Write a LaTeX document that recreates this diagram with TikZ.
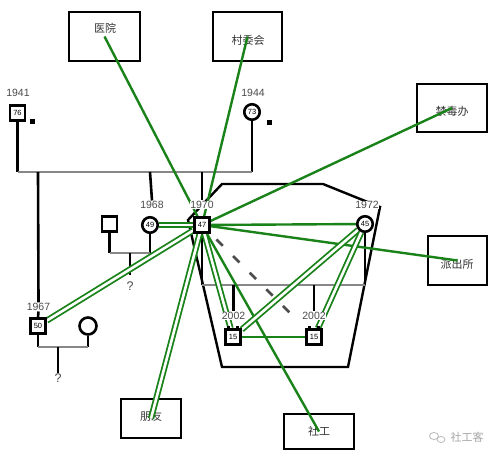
\documentclass[tikz,border=0pt]{standalone}
\usepackage{fontspec}
\setmainfont{Liberation Sans}
\newfontfamily\cjk{Noto Sans CJK SC}
\usetikzlibrary{backgrounds}
\pgfdeclarelayer{bottom}
\pgfsetlayers{bottom,background,main}
\definecolor{rel}{RGB}{25,130,25}
\definecolor{yeargray}{RGB}{75,75,75}
\definecolor{linegray}{RGB}{135,135,135}
\begin{document}
\begin{tikzpicture}[x=1pt,y=-1pt,
  male/.style={draw=black, line width=2.6pt, fill=white, minimum size=15pt, inner sep=0pt, font=\fontsize{7.5}{8}\selectfont},
  female/.style={circle, draw=black, line width=2.6pt, fill=white, minimum size=15.5pt, inner sep=0pt, font=\fontsize{7.5}{8}\selectfont},
  yr/.style={text=yeargray, fill=white, font=\fontsize{10.5}{11}\selectfont, inner sep=0.6pt},
  qm/.style={text=yeargray, font=\fontsize{12.5}{13}\selectfont, inner sep=0pt},
  marker/.style={fill=black, minimum size=5pt, inner sep=0pt},
  agency/.style={draw=black, line width=2pt, inner sep=0pt},
  agtext/.style={font=\cjk\fontsize{11}{12}\selectfont, text=black!80, inner sep=0pt},
  tie/.style={draw=rel, line width=2.4pt},
  strongtie/.style={draw=rel, line width=1.8pt, double=white, double distance=2.6pt},
  kin/.style={draw=black, line width=2.6pt},
  union/.style={draw=linegray, line width=2.4pt},
  hh/.style={draw=black, line width=2.4pt, line join=miter},
  conflict/.style={draw=black!70, line width=2.6pt, dash pattern=on 9pt off 14.5pt},
]
\begin{pgfonlayer}{bottom}
\fill[white] (0,0) rectangle (500,460);
\end{pgfonlayer}
\useasboundingbox (0,0) rectangle (500,460);

% genogram people
\node[male] (g1941) at (17.5,113) {76};
\node[marker] (d1941) at (32,121) {};
\node[yr] (y1941) at (18,93) {1941};
\node[female] (g1944) at (252,112) {73};
\node[marker] (d1944) at (269,122) {};
\node[yr] (y1944) at (253,93) {1944};

\node[male] (g1967) at (38,326) {50};
\node[yr] (y1967) at (38.5,307) {1967};
\node[female, minimum size=17pt] (w1967) at (88,326) {};
\node[qm] (q1967) at (58,378) {?};

\node[male] (h1968) at (109.5,224) {};
\node[female] (g1968) at (150,225) {49};
\node[yr] (y1968) at (152,205) {1968};
\node[qm] (q1968) at (130,286) {?};

\node[male] (g1970) at (202,225) {47};
\node[yr] (y1970) at (202,205) {1970};
\node[female] (g1972) at (365,224) {45};
\node[yr] (y1972) at (367,205) {1972};

\node[male] (c1) at (233,337) {15};
\node[yr] (y2002a) at (233.5,316) {2002};
\node[male] (c2) at (314,337) {15};
\node[yr] (y2002b) at (314,316) {2002};
\foreach \c in {c1,c2}{
  \fill[black] ([xshift=-6pt]\c.north) rectangle ++(3,-2.2);
  \fill[black] ([xshift=3pt]\c.north) rectangle ++(3,-2.2);
}

% watermark
\node[font=\cjk\fontsize{11}{12}\selectfont, text=gray!70, inner sep=0pt] (wm) at (467,437) {社工客};
\draw[gray!55, line width=0.8pt] (434,436) ellipse (4.5 and 3.5);
\draw[gray!55, line width=0.8pt] (441,439.5) ellipse (4 and 3);

\begin{scope}[on background layer]
  % agencies
  \node[agency, minimum width=71pt, minimum height=49pt] (hosp) at (104.5,36.5) {};
  \node[agtext] (thosp) at (105,28) {医院};
  \node[agency, minimum width=69pt, minimum height=49pt] (vc) at (247.5,36.5) {};
  \node[agtext] (tvc) at (248,40) {村委会};
  \node[agency, minimum width=70pt, minimum height=48pt] (drug) at (452,108) {};
  \node[agtext] (tdrug) at (452,111) {禁毒办};
  \node[agency, minimum width=59pt, minimum height=49pt] (police) at (457.5,260.5) {};
  \node[agtext] (tpolice) at (457,264) {派出所};
  \node[agency, minimum width=60pt, minimum height=39pt] (friend) at (151,418.5) {};
  \node[agtext] (tfriend) at (151,416) {朋友};
  \node[agency, minimum width=70pt, minimum height=35pt] (sw) at (319,431.5) {};
  \node[agtext] (tsw) at (319,431) {社工};

  % household boundary
  \draw[hh] (222,184) -- (323,184) -- (380,207) -- (348,367) -- (222,367) -- (188,220) -- cycle;

  % kinship lines
  \coordinate (uL) at (17.5,172);
  \coordinate (uR) at (252,172);
  \draw[kin] (g1941.south) -- (uL);
  \draw[kin] (g1944.south) -- (uR);
  \draw[union] (uL) -- (uR);
  \draw[kin] (38,172) -- (y1967.north);
  \draw[kin] (y1967.south) -- (g1967.north);
  \draw[kin] (150,172) -- (y1968.north);
  \draw[kin] (202,172) -- (y1970.north);

  \coordinate (m67a) at (38,347);
  \coordinate (m67b) at (88,347);
  \draw[kin] (g1967.south) -- (m67a);
  \draw[kin] (w1967.south) -- (m67b);
  \draw[union] (m67a) -- (m67b);
  \draw[kin] (58,347) -- (q1967.north);

  \coordinate (m68a) at (109.5,253);
  \coordinate (m68b) at (150,253);
  \draw[kin] (h1968.south) -- (m68a);
  \draw[kin] (g1968.south) -- (m68b);
  \draw[union] (m68a) -- (m68b);
  \draw[kin] (130,253) -- (130,275);

  \coordinate (m70a) at (202,285);
  \coordinate (m70b) at (365,285);
  \draw[kin] (g1970.south) -- (m70a);
  \draw[kin] (g1972.south) -- (m70b);
  \draw[union] (m70a) -- (m70b);
  \draw[kin] (233.5,285) -- (y2002a.north);
  \draw[kin] (314,285) -- (y2002b.north);

  % conflict
  \draw[conflict, shorten <=8pt, shorten >=9pt] (g1970) -- (c2);

  % relationship ties
  \draw[tie] (g1970) -- (hosp.center);
  \draw[tie] (g1970) -- (vc.center);
  \draw[tie] (g1970) -- (drug.center);
  \draw[tie] (g1970) -- (police.center);
  \draw[tie] (g1970) -- (g1972);
  \draw[tie] (g1970) -- (sw.center);
  \draw[strongtie] (g1968) -- (g1970);
  \draw[strongtie] (g1970) -- (g1967);
  \draw[strongtie] (g1970) -- (friend.center);
  \draw[strongtie] (g1970) -- (c1);
  \draw[strongtie] (g1972) -- (c1);
  \draw[strongtie] (g1972) -- (c2);
  \draw[tie] (c1) -- (c2);
\end{scope}
\end{tikzpicture}
\end{document}
